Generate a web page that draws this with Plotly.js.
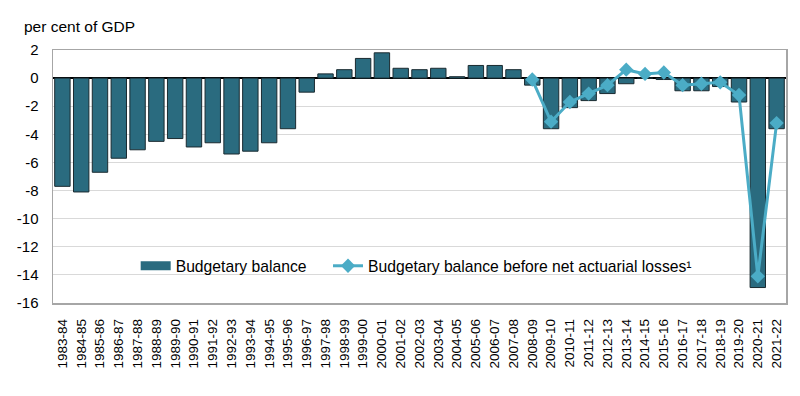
<!DOCTYPE html>
<html>
<head>
<meta charset="utf-8">
<script src="https://cdn.plot.ly/plotly-3.0.1.min.js"></script>
<style>html,body{margin:0;padding:0;background:#fff;overflow:hidden;}#chart{width:800px;height:396px;}</style>
</head>
<body>
<div id="chart"></div>
<script>
const years = ["1983-84","1984-85","1985-86","1986-87","1987-88","1988-89","1989-90","1990-91","1991-92","1992-93","1993-94","1994-95","1995-96","1996-97","1997-98","1998-99","1999-00","2000-01","2001-02","2002-03","2003-04","2004-05","2005-06","2006-07","2007-08","2008-09","2009-10","2010-11","2011-12","2012-13","2013-14","2014-15","2015-16","2016-17","2017-18","2018-19","2019-20","2020-21","2021-22"];
const budgetaryBalance = [-7.7,-8.1,-6.7,-5.7,-5.1,-4.5,-4.3,-4.9,-4.6,-5.4,-5.2,-4.6,-3.6,-1.0,0.3,0.6,1.4,1.8,0.7,0.6,0.7,0.1,0.9,0.9,0.6,-0.5,-3.6,-2.1,-1.6,-1.1,-0.4,0.0,-0.1,-0.9,-0.9,-0.6,-1.7,-14.9,-3.6];
const lineYears = ["2008-09","2009-10","2010-11","2011-12","2012-13","2013-14","2014-15","2015-16","2016-17","2017-18","2018-19","2019-20","2020-21","2021-22"];
const beforeActuarial = [-0.1,-3.1,-1.7,-1.1,-0.5,0.6,0.3,0.4,-0.5,-0.4,-0.3,-1.2,-14.1,-3.2];
const yTicks = [2,0,-2,-4,-6,-8,-10,-12,-14,-16];

const barColor = '#2a6b7f';
const lineColor = '#4bacc6';

const traces = [
  {type:'bar', x: years, y: budgetaryBalance, name:'Budgetary balance', showlegend:false,
   legendgroup:'bb', marker:{color:barColor, line:{color:'#1a2a30', width:1}}},
  // legend swatch for the bars (wide rectangle like the original)
  {type:'scatter', mode:'lines', x:[null], y:[null], name:'Budgetary balance', legendgroup:'bb',
   legend:'legend', line:{color:barColor, width:9}, hoverinfo:'skip'},
  {type:'scatter', mode:'lines+markers', x: lineYears, y: beforeActuarial,
   name:'Budgetary balance before net actuarial losses¹', legend:'legend2',
   line:{color:lineColor, width:3}, marker:{symbol:'diamond', size:11, color:lineColor}}
];
const legendCommon = {orientation:'h', y:0.146, xanchor:'left', yanchor:'middle',
   bgcolor:'rgba(0,0,0,0)', font:{size:15.7}};
const layout = {
  width:800, height:396,
  margin:{l:53, r:14, t:50, b:93, autoexpand:false},
  paper_bgcolor:'#fff', plot_bgcolor:'#fff',
  font:{family:'Liberation Sans, Arial, sans-serif', color:'#000', size:14},
  bargap:0.18,
  showlegend:true,
  legend:Object.assign({x:0.1128}, legendCommon),
  legend2:Object.assign({x:0.3752}, legendCommon),
  annotations:[{text:'per cent of GDP', xref:'paper', yref:'paper', x:-0.042, y:1.093,
     xanchor:'left', yanchor:'middle', showarrow:false, font:{size:15.5}}],
  xaxis:{type:'category', categoryorder:'array', categoryarray: years,
     range:[-0.5, years.length - 0.5], autorange:false,
     tickangle:-90, tickfont:{size:13.5}, showgrid:false,
     ticks:'outside', ticklen:9, tickcolor:'rgba(0,0,0,0)',
     showline:true, mirror:true, linecolor:'#a6a6a6', linewidth:1.5, automargin:false},
  yaxis:{range:[-16,2], tickvals:yTicks, ticktext:yTicks.map(String), tickfont:{size:15},
     showgrid:true, gridcolor:'#d9d9d9', gridwidth:1,
     zeroline:true, zerolinecolor:'#000', zerolinewidth:2,
     ticks:'outside', ticklen:10, tickcolor:'rgba(0,0,0,0)',
     showline:true, mirror:true, linecolor:'#a6a6a6', linewidth:1.5, automargin:false}
};
Plotly.newPlot('chart', traces, layout, {displayModeBar:false, staticPlot:true});
</script>
</body>
</html>
